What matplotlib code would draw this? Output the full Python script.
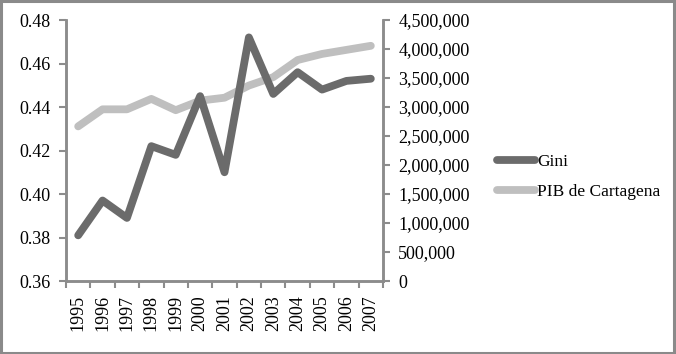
import matplotlib.pyplot as plt
import numpy as np
from matplotlib.ticker import FuncFormatter, FixedLocator

years = ["1995", "1996", "1997", "1998", "1999", "2000", "2001",
         "2002", "2003", "2004", "2005", "2006", "2007"]
gini = [0.381, 0.397, 0.389, 0.422, 0.418, 0.445, 0.410,
        0.472, 0.446, 0.456, 0.448, 0.452, 0.453]
pib = [2666000, 2960000, 2960000, 3140000, 2945000, 3110000, 3160000,
       3370000, 3515000, 3810000, 3915000, 3985000, 4055000]

plt.rcParams['font.family'] = ['Liberation Serif', 'DejaVu Serif']
plt.rcParams['font.size'] = 12

axis_grey = "#8c8c8c"
fig = plt.figure(figsize=(6.76, 3.54), dpi=100)
# outer gray frame
fig.patches.append(plt.Rectangle((0.002, 0.004), 0.995, 0.992, transform=fig.transFigure,
                                 fill=False, edgecolor="#8a8a8a", linewidth=2.2))

ax = fig.add_axes([0.0976, 0.2062, 0.469, 0.7373])
ax2 = ax.twinx()

x = np.arange(len(years))
ax2.plot(x, pib, color="#bfbfbf", linewidth=5.6, solid_capstyle="round", label="PIB de Cartagena", zorder=1)
ax.plot(x, gini, color="#6b6b6b", linewidth=5.6, solid_capstyle="round", label="Gini", zorder=2)
ax.set_zorder(ax2.get_zorder() + 1)
ax.patch.set_visible(False)

ax.set_xlim(-0.5, len(years) - 0.5)
ax.set_ylim(0.36, 0.48)
ax.set_yticks(np.arange(0.36, 0.481, 0.02))
ax.yaxis.set_major_formatter(FuncFormatter(lambda v, p: f"{v:.2f}"))
ax2.set_ylim(0, 4500000)
ax2.set_yticks(np.arange(0, 4500001, 500000))
ax2.yaxis.set_major_formatter(FuncFormatter(lambda v, p: f"{v:,.0f}"))

ax.xaxis.set_major_locator(FixedLocator(np.arange(-0.5, len(years), 1.0)))
ax.xaxis.set_major_formatter(FuncFormatter(lambda v, p: ""))
ax.xaxis.set_minor_locator(FixedLocator(x))
ax.set_xticklabels(years, minor=True, rotation=90, fontsize=13)
ax.tick_params(axis="x", which="minor", length=0, pad=10)
ax.tick_params(axis="x", which="major", length=5, color=axis_grey, width=1.5, direction="out")
ax.tick_params(axis="y", length=5, color=axis_grey, width=1.5, pad=6, labelsize=13)
ax2.tick_params(axis="y", length=5, color=axis_grey, width=1.5, pad=6, labelsize=13)

for a in (ax, ax2):
    a.spines["top"].set_visible(False)
    for s in ("left", "right", "bottom"):
        a.spines[s].set_color(axis_grey)
        a.spines[s].set_linewidth(1.8)

h1, l1 = ax.get_legend_handles_labels()
h2, l2 = ax2.get_legend_handles_labels()
fig.legend(h1 + h2, l1 + l2, loc="center left", bbox_to_anchor=(0.712, 0.5),
           frameon=False, handlelength=2.2, handletextpad=0.1, labelspacing=0.75, fontsize=12.5)

fig.savefig("out.png", dpi=100)
